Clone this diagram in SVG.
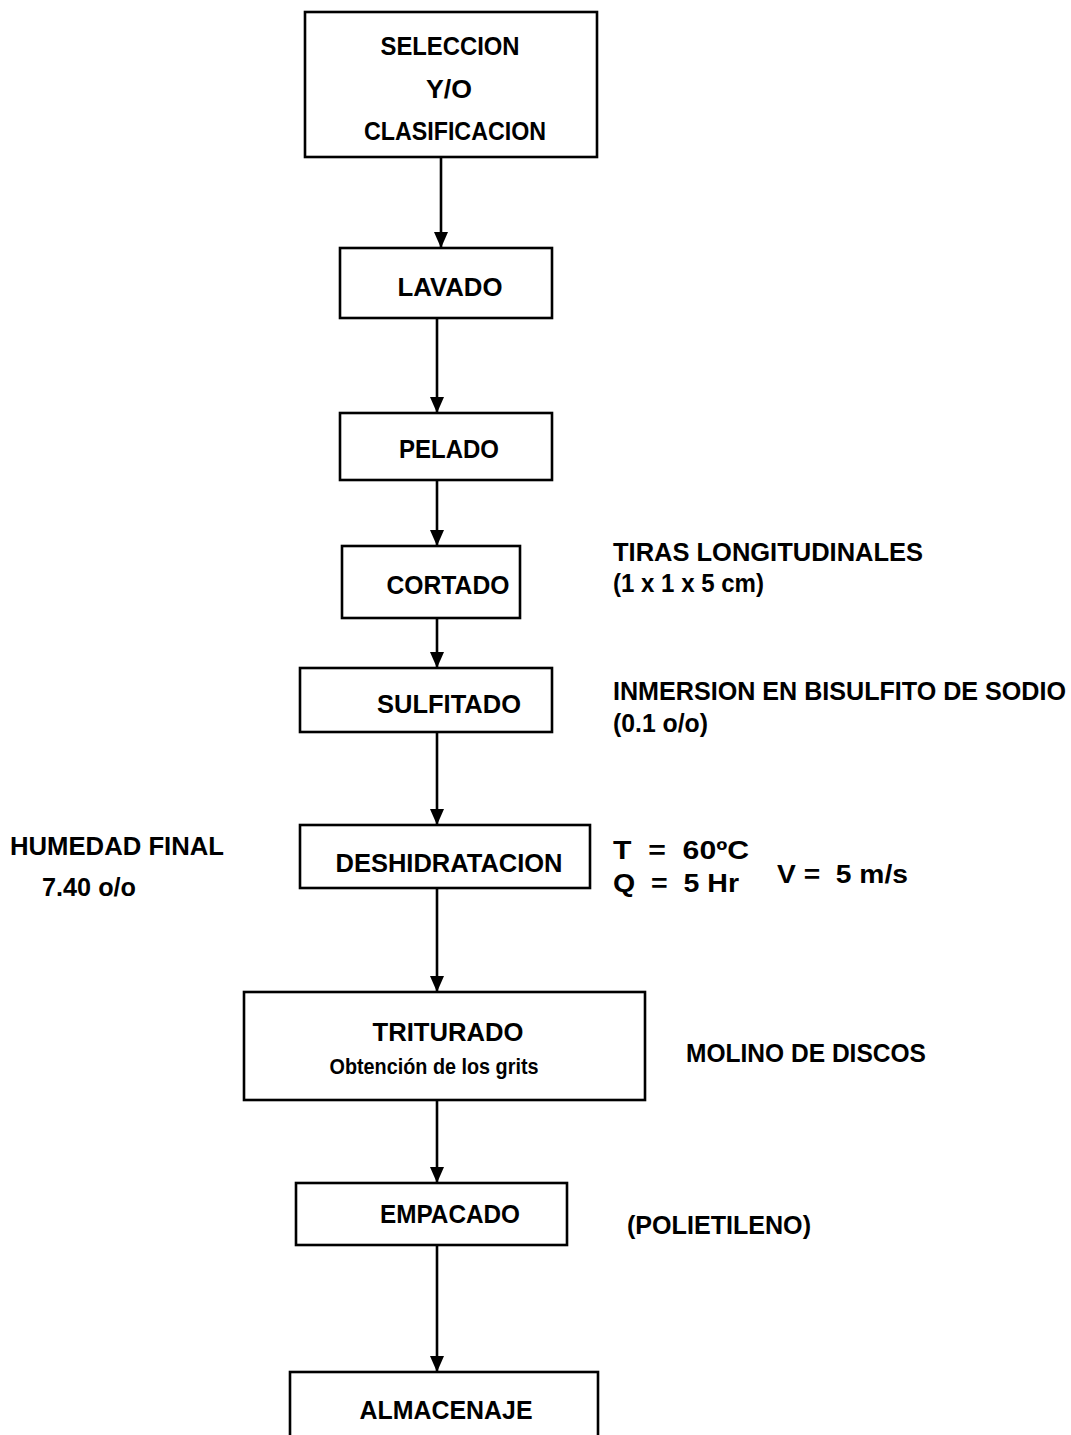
<svg xmlns="http://www.w3.org/2000/svg" width="1071" height="1435" viewBox="0 0 1071 1435">
  <style>
    .box { fill: #fff; stroke: #000; stroke-width: 2.6; }
    .link { stroke: #000; stroke-width: 2.6; fill: none; marker-end: url(#head); }
    text { font-family: "Liberation Sans", Arial, sans-serif; font-size: 25px; font-weight: bold; fill: #000; }
    .c { text-anchor: middle; }
    .small { font-size: 22px; }
  </style>
  <defs>
    <!-- filled triangular arrowhead, tip at the end of the line -->
    <marker id="head" markerUnits="userSpaceOnUse" markerWidth="17" markerHeight="14" refX="16" refY="7" orient="auto" viewBox="0 0 17 14">
      <path d="M0,0 L16,7 L0,14 Z" fill="#000"/>
    </marker>
  </defs>
  <rect width="1071" height="1435" fill="#fff"/>

  <!-- connectors -->
  <g id="connectors">
    <line class="link" x1="441" y1="157" x2="441" y2="248"/>
    <line class="link" x1="437" y1="318" x2="437" y2="413"/>
    <line class="link" x1="437" y1="480" x2="437" y2="546"/>
    <line class="link" x1="437" y1="618" x2="437" y2="668"/>
    <line class="link" x1="437" y1="732" x2="437" y2="825"/>
    <line class="link" x1="437" y1="888" x2="437" y2="992"/>
    <line class="link" x1="437" y1="1100" x2="437" y2="1183"/>
    <line class="link" x1="437" y1="1245" x2="437" y2="1372"/>
  </g>

  <g id="seleccion">
    <rect class="box" x="305" y="12" width="292" height="145"/>
    <text class="c" x="450" y="55" textLength="139" lengthAdjust="spacingAndGlyphs">SELECCION</text>
    <text class="c" x="449" y="98" textLength="46" lengthAdjust="spacingAndGlyphs">Y/O</text>
    <text class="c" x="455" y="140" textLength="182" lengthAdjust="spacingAndGlyphs">CLASIFICACION</text>
  </g>

  <g id="lavado">
    <rect class="box" x="340" y="248" width="212" height="70"/>
    <text class="c" x="450" y="296" textLength="105" lengthAdjust="spacingAndGlyphs">LAVADO</text>
  </g>

  <g id="pelado">
    <rect class="box" x="340" y="413" width="212" height="67"/>
    <text class="c" x="449" y="458" textLength="100" lengthAdjust="spacingAndGlyphs">PELADO</text>
  </g>

  <g id="cortado">
    <rect class="box" x="342" y="546" width="178" height="72"/>
    <text class="c" x="448" y="594" textLength="123" lengthAdjust="spacingAndGlyphs">CORTADO</text>
  </g>
  <g id="cortado-note">
    <text x="613" y="561" textLength="310" lengthAdjust="spacingAndGlyphs">TIRAS LONGITUDINALES</text>
    <text x="613" y="592" textLength="151" lengthAdjust="spacingAndGlyphs">(1 x 1 x 5 cm)</text>
  </g>

  <g id="sulfitado">
    <rect class="box" x="300" y="668" width="252" height="64"/>
    <text class="c" x="449" y="713" textLength="144" lengthAdjust="spacingAndGlyphs">SULFITADO</text>
  </g>
  <g id="sulfitado-note">
    <text x="613" y="700" textLength="453" lengthAdjust="spacingAndGlyphs">INMERSION EN BISULFITO DE SODIO</text>
    <text x="613" y="732" textLength="95" lengthAdjust="spacingAndGlyphs">(0.1 o/o)</text>
  </g>

  <g id="deshidratacion">
    <rect class="box" x="300" y="825" width="290" height="63"/>
    <text class="c" x="449" y="872" textLength="227" lengthAdjust="spacingAndGlyphs">DESHIDRATACION</text>
  </g>
  <g id="deshidratacion-notes">
    <text x="10" y="855" textLength="214" lengthAdjust="spacingAndGlyphs">HUMEDAD FINAL</text>
    <text x="42" y="896" textLength="94" lengthAdjust="spacingAndGlyphs">7.40 o/o</text>
    <text x="613" y="859" textLength="136" lengthAdjust="spacingAndGlyphs" xml:space="preserve">T  =  60ºC</text>
    <text x="613" y="892" textLength="126" lengthAdjust="spacingAndGlyphs" xml:space="preserve">Q  =  5 Hr</text>
    <text x="777" y="883" textLength="131" lengthAdjust="spacingAndGlyphs" xml:space="preserve">V =  5 m/s</text>
  </g>

  <g id="triturado">
    <rect class="box" x="244" y="992" width="401" height="108"/>
    <text class="c" x="448" y="1041" textLength="151" lengthAdjust="spacingAndGlyphs">TRITURADO</text>
    <text class="c small" x="434" y="1074" textLength="209" lengthAdjust="spacingAndGlyphs">Obtención de los grits</text>
  </g>
  <g id="triturado-note">
    <text x="686" y="1062" textLength="240" lengthAdjust="spacingAndGlyphs">MOLINO DE DISCOS</text>
  </g>

  <g id="empacado">
    <rect class="box" x="296" y="1183" width="271" height="62"/>
    <text class="c" x="450" y="1223" textLength="140" lengthAdjust="spacingAndGlyphs">EMPACADO</text>
  </g>
  <g id="empacado-note">
    <text x="627" y="1234" textLength="184" lengthAdjust="spacingAndGlyphs">(POLIETILENO)</text>
  </g>

  <g id="almacenaje">
    <rect class="box" x="290" y="1372" width="308" height="80"/>
    <text class="c" x="446" y="1419" textLength="173" lengthAdjust="spacingAndGlyphs">ALMACENAJE</text>
  </g>
</svg>
